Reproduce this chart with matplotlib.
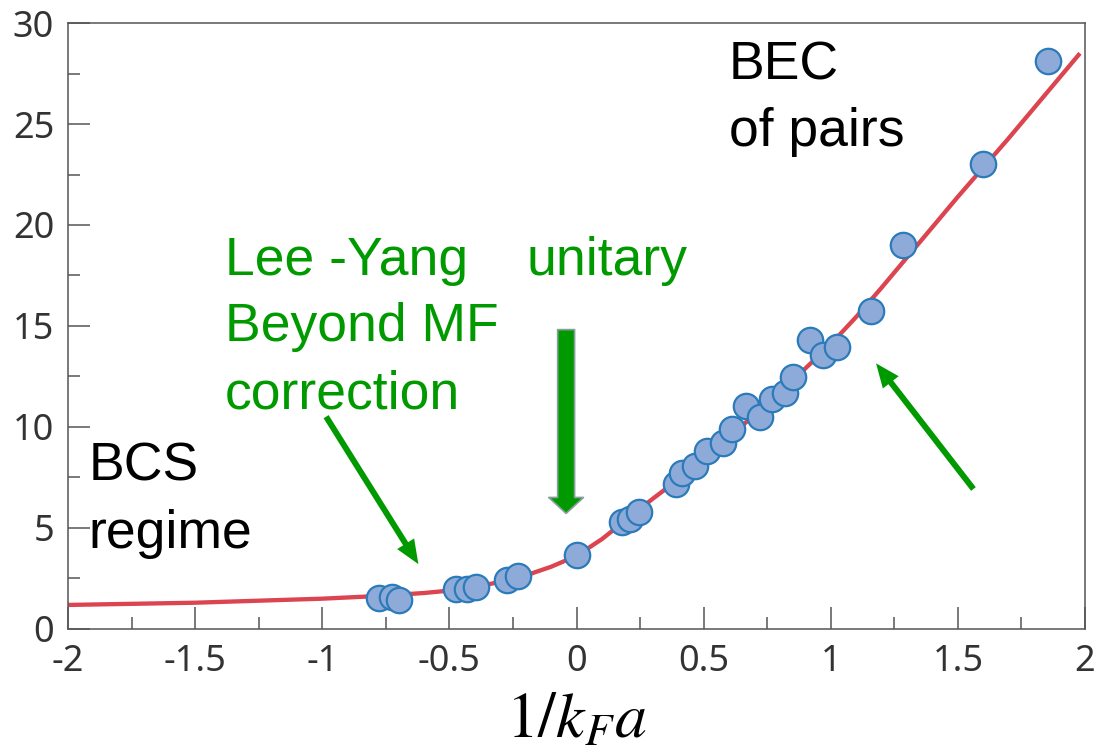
import matplotlib
matplotlib.use("Agg")
import matplotlib.pyplot as plt
from matplotlib.ticker import MultipleLocator

# theory curve
curve_x = [-2.0, -1.5, -1.0, -0.8, -0.6, -0.5, -0.4, -0.3, -0.2, -0.1, 0.0,
           0.1, 0.2, 0.3, 0.4, 0.5, 0.6, 0.7, 0.8, 0.9, 1.0, 1.1, 1.2, 1.3,
           1.4, 1.5, 1.6, 1.7, 1.8, 1.9, 1.98]
curve_y = [1.19, 1.30, 1.50, 1.62, 1.78, 1.90, 2.08, 2.33, 2.65, 3.08, 3.62,
           4.45, 5.45, 6.45, 7.40, 8.45, 9.50, 10.6, 11.75, 12.9, 14.1, 15.45,
           16.9, 18.4, 19.9, 21.4, 22.85, 24.3, 25.8, 27.3, 28.5]

# measured points
data_x = [-0.776, -0.727, -0.697, -0.474, -0.432, -0.395, -0.272, -0.229,
          0.000, 0.178, 0.210, 0.247, 0.391, 0.414, 0.466, 0.512, 0.575,
          0.610, 0.667, 0.722, 0.768, 0.820, 0.850, 0.918, 0.968, 1.026,
          1.158, 1.283, 1.598, 1.856]
data_y = [1.55, 1.60, 1.44, 1.97, 2.00, 2.10, 2.41, 2.63, 3.65, 5.32, 5.44,
          5.77, 7.17, 7.70, 8.08, 8.83, 9.19, 9.90, 11.06, 10.48, 11.39,
          11.67, 12.49, 14.31, 13.58, 13.95, 15.72, 18.99, 23.04, 28.13]

x_ticks = [-2, -1.5, -1, -0.5, 0, 0.5, 1, 1.5, 2]
x_tick_labels = ["-2", "-1.5", "-1", "-0.5", "0", "0.5", "1", "1.5", "2"]
y_ticks = [0, 5, 10, 15, 20, 25, 30]

GREEN = "#009a00"
ann_font = ["Liberation Sans", "DejaVu Sans"]

plt.rcParams["mathtext.fontset"] = "stix"
plt.rcParams["axes.unicode_minus"] = False

fig = plt.figure(figsize=(11.01, 7.52), dpi=100)
ax = fig.add_axes([0.0618, 0.1636, 0.9237, 0.8058])

ax.plot(curve_x, curve_y, color="#dc4450", lw=3.1, solid_capstyle="butt", zorder=2)
ax.plot(data_x, data_y, ls="none", marker="o", ms=18.3, mfc="#8eaad8",
        mec="#2b7bba", mew=1.6, zorder=3)

ax.set_xlim(-2, 2)
ax.set_ylim(0, 30)
ax.set_xticks(x_ticks)
ax.set_xticklabels(x_tick_labels)
ax.set_yticks(y_ticks)
ax.xaxis.set_minor_locator(MultipleLocator(0.25))
ax.yaxis.set_minor_locator(MultipleLocator(2.5))
ax.tick_params(which="both", direction="in", color="#555555", width=1.1,
               labelsize=26, labelcolor="#333333")
ax.tick_params(which="major", length=16)
ax.tick_params(which="minor", length=8.6)
ax.tick_params(axis="x", pad=11)
ax.tick_params(axis="y", pad=10)
for lab in ax.get_xticklabels() + ax.get_yticklabels():
    lab.set_fontfamily("Noto Sans")
for sp in ax.spines.values():
    sp.set_color("#555555")
    sp.set_linewidth(1.1)

ax.set_xlabel(r"$1/k_Fa$", fontsize=46, labelpad=6)

# annotations
ax.text(-1.92, 9.27, "BCS\nregime", fontsize=38.5, family=ann_font,
        va="top", ha="left", linespacing=1.43)
ax.text(0.60, 29.15, "BEC\nof pairs", fontsize=38.5, family=ann_font,
        va="top", ha="left", linespacing=1.43)
ax.text(-1.383, 19.48, "Lee -Yang\nBeyond MF\ncorrection", fontsize=38.5,
        family=ann_font, color=GREEN, va="top", ha="left", linespacing=1.43)
ax.text(-0.195, 19.48, "unitary", fontsize=38.5, family=ann_font,
        color=GREEN, va="top", ha="left")

thin = dict(arrowstyle="simple,head_length=1.73,head_width=1.44,tail_width=0.43",
            mutation_scale=10, fc=GREEN, ec="none", shrinkA=0, shrinkB=0)
ax.annotate("", xy=(-0.622, 3.21), xytext=(-0.985, 10.51), arrowprops=thin)
ax.annotate("", xy=(1.178, 13.15), xytext=(1.561, 6.93), arrowprops=thin)
ax.annotate("", xy=(-0.041, 5.72), xytext=(-0.041, 14.82),
            arrowprops=dict(arrowstyle="simple,head_length=1.15,head_width=2.5,tail_width=1.22",
                            mutation_scale=10, fc=GREEN, ec="#8a9e9e", lw=1.2,
                            shrinkA=0, shrinkB=0))

fig.savefig("out.png", dpi=100)
